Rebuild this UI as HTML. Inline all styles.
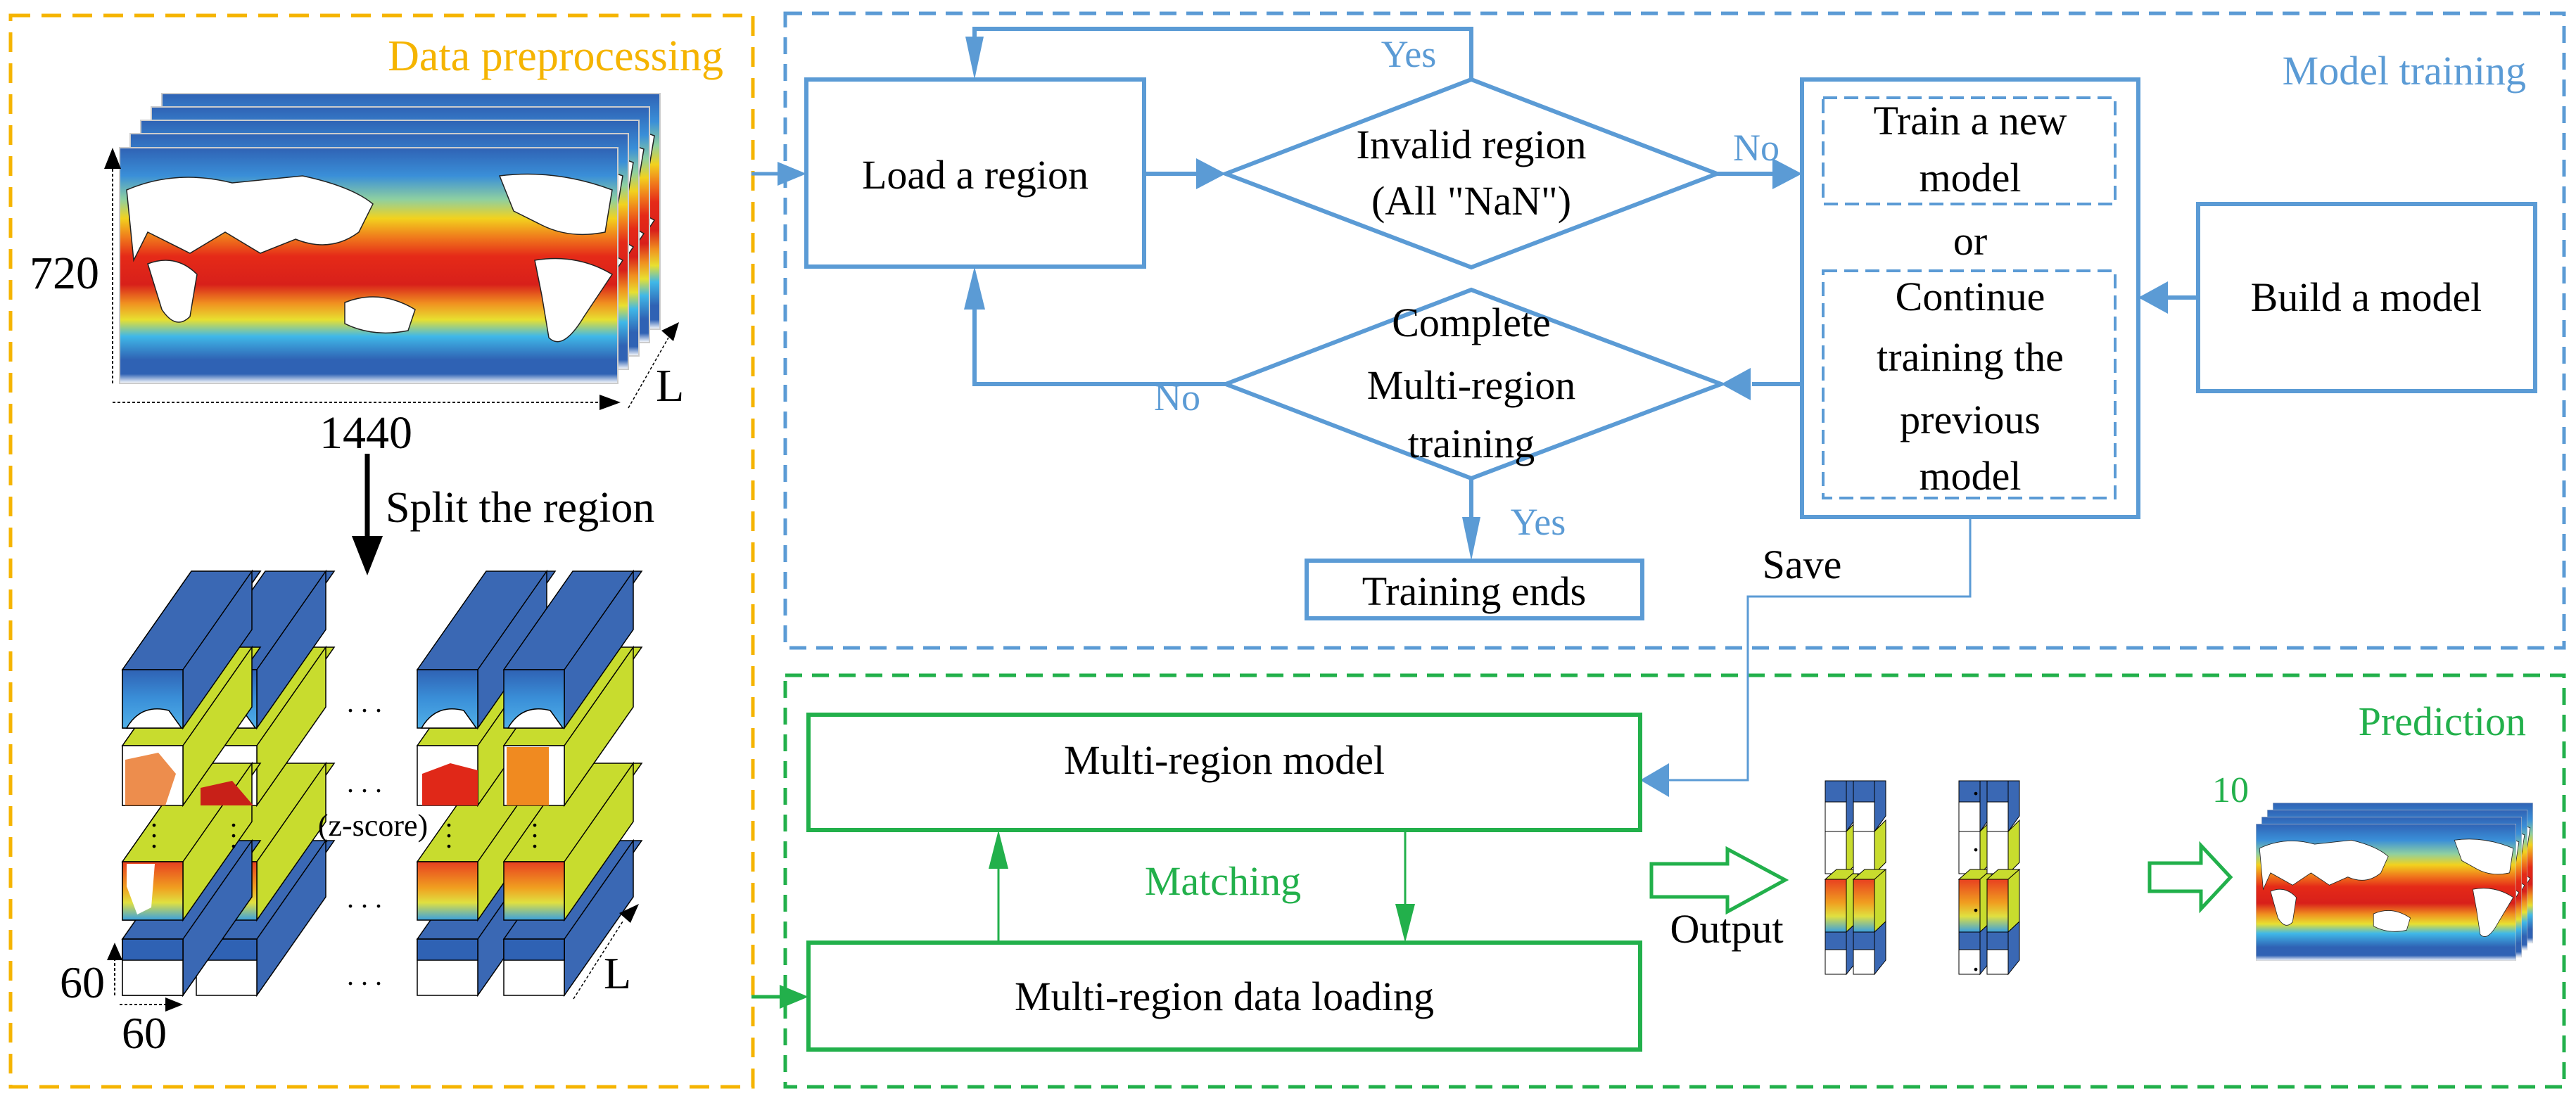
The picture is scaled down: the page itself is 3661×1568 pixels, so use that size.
<!DOCTYPE html>
<html><head><meta charset="utf-8"><style>html,body{margin:0;padding:0;background:#fff}svg{display:block}svg text{font-family:"Liberation Serif","DejaVu Serif",serif}</style></head>
<body>
<svg width="3661" height="1568" viewBox="0 0 3661 1568" xmlns="http://www.w3.org/2000/svg" style="font-family:'Liberation Serif',serif">
<defs>
<linearGradient id="sst" x1="0" y1="0" x2="0" y2="1">
<stop offset="0" stop-color="#2f62b4"/><stop offset="0.12" stop-color="#3a8fd8"/><stop offset="0.22" stop-color="#8fd0a0"/><stop offset="0.3" stop-color="#f2d21e"/><stop offset="0.38" stop-color="#f07a1c"/><stop offset="0.46" stop-color="#e52a18"/><stop offset="0.58" stop-color="#d8201a"/><stop offset="0.66" stop-color="#f09020"/><stop offset="0.73" stop-color="#e8e030"/><stop offset="0.8" stop-color="#40b8e8"/><stop offset="0.9" stop-color="#2f62b4"/><stop offset="0.96" stop-color="#2f62b4"/><stop offset="1" stop-color="#ffffff"/>
</linearGradient>
<linearGradient id="warm" x1="0" y1="0" x2="0" y2="1">
<stop offset="0" stop-color="#e84020"/><stop offset="0.45" stop-color="#f0a020"/><stop offset="0.7" stop-color="#e0e040"/><stop offset="1" stop-color="#3aa0e0"/>
</linearGradient>
<linearGradient id="cold" x1="0" y1="0" x2="0" y2="1">
<stop offset="0" stop-color="#2f62b4"/><stop offset="0.5" stop-color="#3a8fd8"/><stop offset="1" stop-color="#50b0e8"/>
</linearGradient>
<g id="map">
<rect x="0" y="0" width="708" height="335" fill="url(#sst)"/>
<path d="M10 60 Q80 30 160 50 L260 40 Q330 55 360 80 L340 120 Q300 150 250 130 L200 150 L150 120 L100 150 L40 120 L20 160 Z" fill="#fff" stroke="#222" stroke-width="1.5"/>
<path d="M40 165 Q80 150 110 180 L100 240 Q80 260 60 230 Z" fill="#fff" stroke="#222" stroke-width="1.5"/>
<path d="M320 220 Q370 200 420 230 L410 260 Q360 270 320 250 Z" fill="#fff" stroke="#222" stroke-width="1.5"/>
<path d="M540 40 Q620 30 700 60 L690 120 Q640 130 600 110 L560 90 Z" fill="#fff" stroke="#222" stroke-width="1.5"/>
<path d="M590 160 Q650 150 700 180 L660 240 Q630 290 610 270 L600 210 Z" fill="#fff" stroke="#222" stroke-width="1.5"/>
</g>
</defs>

<rect x="15" y="22" width="1055" height="1523" fill="none" stroke="#f5b400" stroke-width="5" stroke-dasharray="28,16"/>
<rect x="1116" y="19" width="2528" height="902" fill="none" stroke="#5b9bd5" stroke-width="5" stroke-dasharray="24,14"/>
<rect x="1116" y="960" width="2528" height="585" fill="none" stroke="#22b04b" stroke-width="5" stroke-dasharray="24,14"/>

<text x="1028" y="100" font-size="62" fill="#f5b400" text-anchor="end">Data preprocessing</text>
<text x="3590" y="120" font-size="58" fill="#5b9bd5" text-anchor="end">Model training</text>
<text x="3590" y="1045" font-size="58" fill="#22b04b" text-anchor="end">Prediction</text>

<g stroke="#ccc" stroke-width="2">
<use href="#map" x="230" y="133"/>
<use href="#map" x="215" y="152"/>
<use href="#map" x="200" y="171"/>
<use href="#map" x="185" y="190"/>
<use href="#map" x="170" y="210"/>
</g>
<line x1="160" y1="545" x2="160" y2="240" stroke="#000" stroke-width="2" stroke-dasharray="4,3"/>
<polygon points="160,210 148,240 172,240" fill="#000"/>
<line x1="160" y1="572" x2="855" y2="572" stroke="#000" stroke-width="2" stroke-dasharray="4,3"/>
<polygon points="882,572 852,561 852,583" fill="#000"/>
<line x1="893" y1="580" x2="950" y2="480" stroke="#000" stroke-width="1.5" stroke-dasharray="4,3"/>
<polygon points="965,458 940,470 957,485" fill="#000"/>
<text x="42" y="410" font-size="66">720</text>
<text x="520" y="637" font-size="66" text-anchor="middle">1440</text>
<text x="932" y="570" font-size="66">L</text>

<line x1="522" y1="645" x2="522" y2="770" stroke="#000" stroke-width="7"/>
<polygon points="522,818 500,762 544,762" fill="#000"/>
<text x="548" y="742" font-size="62">Split the region</text>

<g stroke="#000" stroke-width="1.5">
<g id="col">
<polygon points="174,1335 272,1195 370,1195 272,1335" fill="#3a68b4"/>
<polygon points="260,1335 358,1195 358,1275 260,1415" fill="#3a68b4"/>
<rect x="174" y="1335" width="86" height="80" fill="#fff"/>
<rect x="174" y="1335" width="86" height="30" fill="#2f62b4"/>
<polygon points="174,1225 272,1085 370,1085 272,1225" fill="#c8dc2e"/>
<polygon points="260,1225 358,1085 358,1168 260,1308" fill="#c8dc2e"/>
<rect x="174" y="1225" width="86" height="83" fill="url(#warm)"/>
<polygon points="174,1060 272,920 370,920 272,1060" fill="#c8dc2e"/>
<polygon points="260,1060 358,920 358,1005 260,1145" fill="#c8dc2e"/>
<rect x="174" y="1060" width="86" height="85" fill="#fff"/>
<polygon points="174,952 272,812 370,812 272,952" fill="#3a68b4"/>
<polygon points="260,952 358,812 358,895 260,1035" fill="#3a68b4"/>
<rect x="174" y="952" width="86" height="83" fill="url(#cold)"/>
<path d="M180 1035 Q200 1000 240 1010 L258 1035 Z" fill="#fff"/>
</g>
</g>
<g stroke="#000" stroke-width="1.5">
<use href="#col" x="105"/>
<use href="#col" x="419"/>
<use href="#col" x="542"/>
</g>
<g stroke="#000" stroke-width="1.5"><use href="#col"/></g>
<polygon points="178,1080 225,1070 250,1100 235,1145 178,1145" fill="#e87020" opacity="0.8"/>
<polygon points="285,1120 330,1110 360,1145 285,1145" fill="#c82018"/>
<polygon points="600,1100 640,1085 679,1095 679,1145 600,1145" fill="#e02818"/>
<rect x="720" y="1062" width="60" height="83" fill="#f08a20"/>
<polygon points="180,1228 220,1228 215,1290 195,1300 180,1260" fill="#fff"/>
<g font-size="40" text-anchor="middle">
<text x="518" y="1012">. . .</text>
<text x="518" y="1126">. . .</text>
<text x="518" y="1290">. . .</text>
<text x="518" y="1400">. . .</text>
</g>
<text x="530" y="1188" font-size="44" text-anchor="middle">(z-score)</text>
<g font-size="40" text-anchor="middle">
<text x="219" y="1175">.</text><text x="219" y="1190">.</text><text x="219" y="1205">.</text>
<text x="332" y="1175">.</text><text x="332" y="1190">.</text><text x="332" y="1205">.</text>
<text x="638" y="1175">.</text><text x="638" y="1190">.</text><text x="638" y="1205">.</text>
<text x="760" y="1175">.</text><text x="760" y="1190">.</text><text x="760" y="1205">.</text>
</g>
<line x1="163" y1="1415" x2="163" y2="1365" stroke="#000" stroke-width="2" stroke-dasharray="4,3"/>
<polygon points="163,1340 152,1365 174,1365" fill="#000"/>
<line x1="170" y1="1428" x2="235" y2="1428" stroke="#000" stroke-width="2" stroke-dasharray="4,3"/>
<polygon points="260,1428 235,1418 235,1438" fill="#000"/>
<line x1="815" y1="1420" x2="885" y2="1310" stroke="#000" stroke-width="1.5" stroke-dasharray="4,3"/>
<polygon points="908,1285 880,1298 896,1312" fill="#000"/>
<text x="85" y="1418" font-size="64">60</text>
<text x="173" y="1490" font-size="64">60</text>
<text x="858" y="1405" font-size="64">L</text>

<line x1="1068" y1="247" x2="1110" y2="247" stroke="#5b9bd5" stroke-width="5"/>
<polygon points="1146,247 1105,230 1105,264" fill="#5b9bd5"/>
<line x1="1068" y1="1417" x2="1110" y2="1417" stroke="#22b04b" stroke-width="5"/>
<polygon points="1149,1417 1108,1400 1108,1434" fill="#22b04b"/>

<g fill="none" stroke="#5b9bd5" stroke-width="6">
<rect x="1146" y="113" width="480" height="266"/>
<polygon points="1742,247 2091,113 2440,247 2091,380"/>
<rect x="2561" y="113" width="478" height="622"/>
<rect x="3124" y="290" width="479" height="266"/>
<polygon points="1742,546 2091,412 2446,546 2091,680"/>
<rect x="1857" y="797" width="477" height="82"/>
<path d="M2091,113 V41 H1385 V75"/>
<path d="M1626,247 H1700"/>
<path d="M2440,247 H2525"/>
<path d="M3124,423 H3080"/>
<path d="M2561,546 H2490"/>
<path d="M1742,546 H1385 V420"/>
<path d="M2091,680 V760"/>
</g>
<g fill="none" stroke="#5b9bd5" stroke-width="4" stroke-dasharray="20,10">
<rect x="2591" y="139" width="415" height="151"/>
<rect x="2591" y="385" width="415" height="323"/>
</g>
<path d="M2800,735 V848 H2484 V1109 H2370" fill="none" stroke="#5b9bd5" stroke-width="3"/>
<g fill="#5b9bd5">
<polygon points="1385,113 1372,52 1398,52"/>
<polygon points="1742,247 1700,225 1700,269"/>
<polygon points="2561,247 2519,225 2519,269"/>
<polygon points="3039,423 3081,400 3081,446"/>
<polygon points="2446,546 2488,523 2488,569"/>
<polygon points="1385,379 1370,440 1400,440"/>
<polygon points="2091,797 2078,735 2104,735"/>
<polygon points="2331,1109 2372,1085 2372,1133"/>
</g>
<g font-size="54" fill="#5b9bd5" text-anchor="middle">
<text x="2002" y="95">Yes</text>
<text x="2496" y="228">No</text>
<text x="1673" y="583">No</text>
<text x="2186" y="760">Yes</text>
</g>
<g font-size="58" fill="#000" text-anchor="middle">
<text x="1386" y="268">Load a region</text>
<text x="2091" y="225">Invalid region</text>
<text x="2091" y="305">(All "NaN")</text>
<text x="2800" y="191">Train a new</text>
<text x="2800" y="272">model</text>
<text x="2800" y="362">or</text>
<text x="2800" y="441">Continue</text>
<text x="2800" y="527">training the</text>
<text x="2800" y="616">previous</text>
<text x="2800" y="696">model</text>
<text x="3363" y="442">Build a model</text>
<text x="2091" y="478">Complete</text>
<text x="2091" y="567">Multi-region</text>
<text x="2091" y="650">training</text>
<text x="2095" y="860">Training ends</text>
<text x="2561" y="822">Save</text>
</g>

<g fill="none" stroke="#22b04b" stroke-width="6">
<rect x="1149" y="1016" width="1182" height="164"/>
<rect x="1149" y="1340" width="1182" height="152"/>
</g>
<line x1="1419" y1="1340" x2="1419" y2="1220" stroke="#22b04b" stroke-width="3"/>
<polygon points="1419,1180 1405,1235 1433,1235" fill="#22b04b"/>
<line x1="1997" y1="1180" x2="1997" y2="1300" stroke="#22b04b" stroke-width="3"/>
<polygon points="1997,1340 1983,1285 2011,1285" fill="#22b04b"/>
<text x="1740" y="1100" font-size="58" text-anchor="middle">Multi-region model</text>
<text x="1740" y="1436" font-size="58" text-anchor="middle">Multi-region data loading</text>
<text x="1738" y="1272" font-size="58" fill="#22b04b" text-anchor="middle">Matching</text>

<polygon points="2347,1228 2455,1228 2455,1207 2537,1251 2455,1296 2455,1275 2347,1275" fill="#fff" stroke="#22b04b" stroke-width="5"/>
<text x="2454" y="1340" font-size="58" text-anchor="middle">Output</text>
<polygon points="3055,1227 3128,1227 3128,1202 3170,1247 3128,1292 3128,1267 3055,1267" fill="#fff" stroke="#22b04b" stroke-width="5"/>
<text x="3170" y="1140" font-size="52" fill="#22b04b" text-anchor="middle">10</text>

<g stroke="#000" stroke-width="1">
<g id="sc">
<rect x="2594" y="1110" width="30" height="72" fill="#3a68b4"/>
<rect x="2594" y="1140" width="30" height="42" fill="#fff"/>
<polygon points="2624,1110 2640,1110 2640,1160 2624,1182" fill="#3a68b4"/>
<rect x="2594" y="1182" width="30" height="60" fill="#fff"/>
<polygon points="2624,1182 2640,1166 2640,1226 2624,1242" fill="#c8dc2e"/>
<rect x="2594" y="1250" width="30" height="75" fill="url(#warm)"/>
<polygon points="2594,1250 2610,1236 2640,1236 2624,1250" fill="#c8dc2e"/>
<polygon points="2624,1250 2640,1236 2640,1310 2624,1325" fill="#c8dc2e"/>
<rect x="2594" y="1325" width="30" height="60" fill="#3a68b4"/>
<rect x="2594" y="1350" width="30" height="35" fill="#fff"/>
<polygon points="2624,1325 2640,1310 2640,1365 2624,1385" fill="#3a68b4"/>
</g>
<use href="#sc" x="40"/>
<use href="#sc" x="190"/>
<use href="#sc" x="230"/>
</g>
<g font-size="40" text-anchor="middle"><text x="2808" y="1130">.</text><text x="2808" y="1210">.</text><text x="2808" y="1296">.</text><text x="2808" y="1380">.</text></g>

<g stroke="#ccc" stroke-width="2">
<svg x="3230" y="1141" width="370" height="200" viewBox="0 0 708 335" preserveAspectRatio="none"><use href="#map"/></svg>
<svg x="3222" y="1151" width="370" height="200" viewBox="0 0 708 335" preserveAspectRatio="none"><use href="#map"/></svg>
<svg x="3214" y="1161" width="370" height="200" viewBox="0 0 708 335" preserveAspectRatio="none"><use href="#map"/></svg>
<svg x="3206" y="1171" width="370" height="195" viewBox="0 0 708 335" preserveAspectRatio="none"><use href="#map"/></svg>
</g>
</svg>
</body></html>
